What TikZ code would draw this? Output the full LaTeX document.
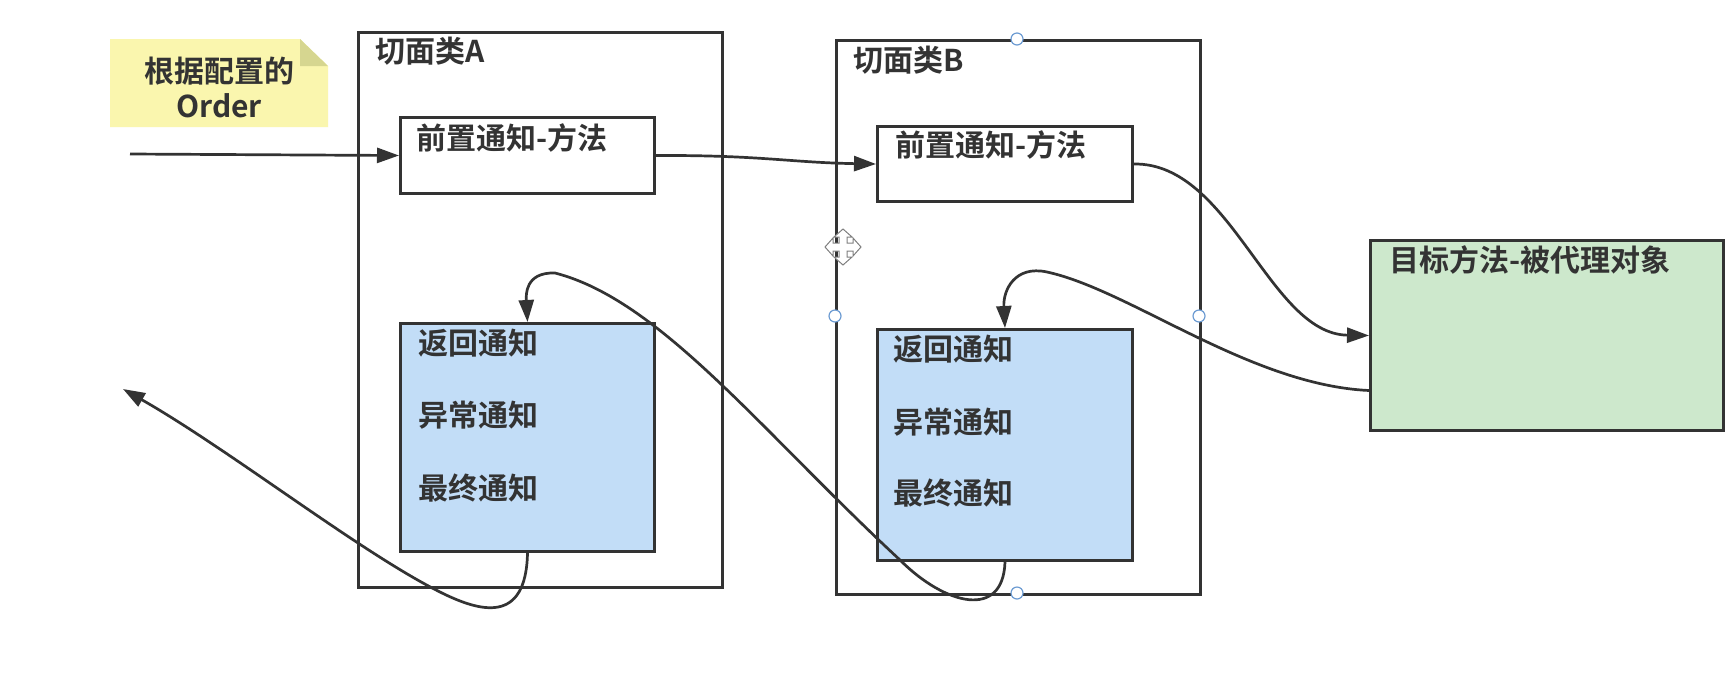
\documentclass[tikz,border=0pt]{standalone}
\usepackage{fontspec}
\setmainfont{Noto Sans CJK SC}[BoldFont={Noto Sans CJK SC Bold}]
\usetikzlibrary{arrows.meta}
\definecolor{ln}{HTML}{333333}
\definecolor{bluefill}{HTML}{C2DDF7}
\definecolor{greenfill}{HTML}{CDE8CC}
\definecolor{notefill}{HTML}{FAF6AE}
\definecolor{notefold}{HTML}{D6D690}
\definecolor{hb}{HTML}{6C9BD2}
\begin{document}
\begin{tikzpicture}[x=0.5pt,y=-0.5pt,
  box/.style={draw=ln, line width=1.5pt, rectangle, anchor=north west, inner sep=0pt},
  txt/.style={anchor=west, inner sep=0pt, text=ln, font=\bfseries\fontsize{15}{17.5}\selectfont},
  flow/.style={draw=ln, line width=1.35pt, -{Triangle[length=11pt,width=7.5pt]}},
  handle/.style={circle, draw=hb, fill=white, line width=0.6pt, minimum size=6pt, inner sep=0pt}]

\useasboundingbox[fill=white] (0,0) rectangle (1733,687);

% note
\fill[notefill] (110,39) -- (300,39) -- (328,66) -- (328,127) -- (110,127) -- cycle;
\fill[notefold] (300,39) -- (328,66) -- (300,66) -- cycle;
\node[txt, anchor=center, align=center] (N) at (219,87.5) {根据配置的\\Order};

% boxes
\node[box, minimum width=182pt, minimum height=277.5pt] (A) at (357,31) {};
\node[box, minimum width=127pt, minimum height=38pt] (A1) at (399,116) {};
\node[box, fill=bluefill, minimum width=127pt, minimum height=114pt] (A2) at (399,322) {};
\node[box, minimum width=182pt, minimum height=277pt] (B) at (835,39) {};
\node[box, minimum width=127.5pt, minimum height=37.5pt] (B1) at (876,125) {};
\node[box, fill=bluefill, minimum width=127.5pt, minimum height=115.5pt] (B2) at (876,328) {};
\node[box, fill=greenfill, minimum width=176.5pt, minimum height=95pt] (G) at (1369,239) {};

% texts
\node[txt] (tA) at (375,51.5) {切面类A};
\node[txt] (tB) at (853,60) {切面类B};
\node[txt] (tA1) at (416,138) {前置通知-方法};
\node[txt] (tB1) at (895,145) {前置通知-方法};
\node[txt] (tA2a) at (418,343) {返回通知};
\node[txt] (tA2b) at (418,415) {异常通知};
\node[txt] (tA2c) at (418,488) {最终通知};
\node[txt] (tB2a) at (893,349) {返回通知};
\node[txt] (tB2b) at (893,422) {异常通知};
\node[txt] (tB2c) at (893,493) {最终通知};
\node[txt] (tG) at (1389,260) {目标方法-被代理对象};

% connectors
\coordinate (in) at (130,154);
\coordinate (out) at (123,389);
\draw[flow] (in) -- (A1.west);
\draw[flow] (A1.east) .. controls (760,155) and (790,162.5) .. (B1.west);
\draw[flow] (B1.east) .. controls (1231,162.5) and (1269,334) .. (G.west);
\draw[flow] ([yshift=-27.5pt]G.west) .. controls (1250,385) and (1130,290) .. (1047,272)
   .. controls (1015,265) and (1003,290) .. (B2.north);
\draw[flow] (B2.south) .. controls (1003,620) and (945,605) .. (900,560)
   .. controls (760,430) and (660,300) .. (555,273)
   .. controls (525,272) and (526,295) .. (A2.north);
\draw[flow] (A2.south) .. controls (526,625) and (480,612) .. (440,592)
   .. controls (360,552) and (230,450) .. (out);

% selection handles on B
\node[handle] (h1) at (1017,39) {};
\node[handle] (h2) at (835,316) {};
\node[handle] (h3) at (1199,316) {};
\node[handle] (h4) at (1017,593) {};

% move cursor
\draw[gray, fill=white, line width=0.5pt, shift={(843,247)}]
  (0,-18) -- (9,-10) -- (4,-10) -- (4,-4) -- (10,-4) -- (10,-9) -- (18,0) -- (10,9) -- (10,4)
  -- (4,4) -- (4,10) -- (9,10) -- (0,18) -- (-9,10) -- (-4,10) -- (-4,4) -- (-10,4) -- (-10,9)
  -- (-18,0) -- (-10,-9) -- (-10,-4) -- (-4,-4) -- (-4,-10) -- (-9,-10) -- cycle;
\end{tikzpicture}
\end{document}
